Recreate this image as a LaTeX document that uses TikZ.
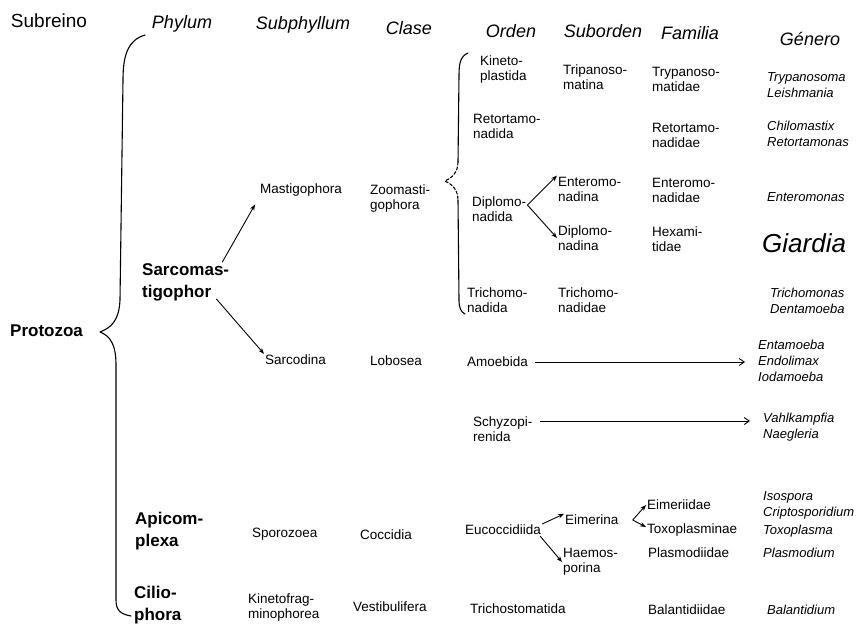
\documentclass[tikz,border=0pt]{standalone}
\usepackage{fontspec}
\setmainfont{Liberation Sans}
\usepackage{tikz}
\usetikzlibrary{arrows.meta, calc}

\begin{document}
\begin{tikzpicture}[x=1pt, y=-1pt]
    \tikzset{
  headlab/.style={font=\fontsize{18}{20}\selectfont\itshape, inner sep=0},
  phylab/.style={font=\fontsize{17}{22}\selectfont\bfseries, align=left, anchor=west, inner sep=1pt},
  taxlab/.style={font=\fontsize{13.5}{15}\selectfont, align=left, anchor=west, inner sep=1pt},
  genlab/.style={font=\fontsize{13}{16}\selectfont\itshape, align=left, anchor=west, inner sep=1pt},
  brace/.style={line width=1.1pt, line cap=round, line join=round},
  link/.style={-{Stealth[length=6pt, width=4.5pt]}, line width=0.9pt},
  longlink/.style={-{Straight Barb[length=5pt, width=7pt]}, line width=0.9pt, shorten <=6pt, shorten >=12pt},
}
\useasboundingbox (0,0) rectangle (864,625);

% ── Column headers ───────────────────────────────────────────
\node[headlab, font=\fontsize{19}{21}\selectfont] (hSub) at (49,21) {Subreino};
\node[headlab] (hPhy)   at (182,24) {Phylum};
\node[headlab] (hSubph) at (303,25) {Subphyllum};
\node[headlab] (hCla)   at (409,28) {Clase};
\node[headlab] (hOrd)   at (511,31) {Orden};
\node[headlab] (hSubo)  at (603,31) {Suborden};
\node[headlab] (hFam)   at (690,33) {Familia};
\node[headlab] (hGen)   at (810,39) {Género};

% ── Subreino and phyla ───────────────────────────────────────
\node[phylab] (proto) at (9,331)   {Protozoa};
\node[phylab] (sarc)  at (141,282) {Sarcomas-\\tigophor};
\node[phylab] (apic)  at (134,531) {Apicom-\\plexa};
\node[phylab] (cilio) at (133,605) {Cilio-\\phora};

% big brace Protozoa
\draw[brace] (145,35) .. controls (128,40) and (123,55) .. (123,80)
  -- (120,300) .. controls (119,322) and (110,328) .. (100,332)
  .. controls (110,336) and (116,344) .. (116,365)
  -- (116,600) .. controls (116,610) and (120,614) .. (131,616);

% ── Subphyllum ───────────────────────────────────────────────
\node[taxlab] (masti)  at (259,190) {Mastigophora};
\node[taxlab] (sarcod) at (264,360) {Sarcodina};
\node[taxlab] (sporo)  at (251,534) {Sporozoea};
\node[taxlab] (kinet)  at (247,607) {Kinetofrag-\\minophorea};

\draw[link, shorten >=8pt] ([xshift=-8pt]sarc.north east) -- (masti.south west);
\draw[link] ([xshift=-14pt, yshift=3pt]sarc.south east) -- (sarcod.north west);

% ── Clase ────────────────────────────────────────────────────
\node[taxlab] (zoom)  at (369,199) {Zoomasti-\\gophora};
\node[taxlab] (lobo)  at (369,361) {Lobosea};
\node[taxlab] (cocc)  at (359,535) {Coccidia};
\node[taxlab] (vesti) at (352,607) {Vestibulifera};

% brace Zoomastigophora -> orders
\draw[brace] (468,53) .. controls (461,56) and (459,62) .. (459,75) -- (458,162);
\draw[brace, dashed, dash pattern=on 3pt off 2pt] (458,162) .. controls (458,172) and (452,178) .. (445,181)
  .. controls (452,184) and (458,190) .. (458,200);
\draw[brace] (458,200) -- (459,300) .. controls (459,308) and (461,312) .. (465,314);

% ── Orden ────────────────────────────────────────────────────
\node[taxlab] (kinetop)  at (479,70)  {Kineto-\\plastida};
\node[taxlab] (retoO)    at (472,126) {Retortamo-\\nadida};
\node[taxlab] (diplo)    at (471,209) {Diplomo-\\nadida};
\node[taxlab] (tricO)    at (466,300) {Trichomo-\\nadida};
\node[taxlab] (amoe)     at (466,362) {Amoebida};
\node[taxlab] (schy)     at (472,429) {Schyzopi-\\renida};
\node[taxlab] (euco)     at (464,530) {Eucoccidiida};
\node[taxlab] (trichost) at (469,609) {Trichostomatida};

% ── Suborden ─────────────────────────────────────────────────
\node[taxlab] (tripS) at (562,77)  {Tripanoso-\\matina};
\node[taxlab] (enteS) at (557,189) {Enteromo-\\nadina};
\node[taxlab] (diplS) at (557,238) {Diplomo-\\nadina};
\node[taxlab] (tricS) at (557,300) {Trichomo-\\nadidae};
\node[taxlab] (eime)  at (564,520) {Eimerina};
\node[taxlab] (haem)  at (562,562) {Haemos-\\porina};

\draw[link] ([yshift=4pt]diplo.east) -- (enteS.north west);
\draw[link] ([yshift=4pt]diplo.east) -- (diplS.west);
\draw[link] ([yshift=6pt]euco.east) -- (eime.north west);
\draw[link] ([xshift=-2pt]euco.south east) -- (haem.west);

% ── Familia ──────────────────────────────────────────────────
\node[taxlab] (trypF) at (651,79)  {Trypanoso-\\matidae};
\node[taxlab] (retoF) at (651,135) {Retortamo-\\nadidae};
\node[taxlab] (enteF) at (651,190) {Enteromo-\\nadidae};
\node[taxlab] (hexF)  at (651,239) {Hexami-\\tidae};
\node[taxlab] (eimi)  at (646,505) {Eimeriidae};
\node[taxlab] (toxo)  at (646,530) {Toxoplasminae};
\node[taxlab] (plasF) at (647,553) {Plasmodiidae};
\node[taxlab] (balF)  at (647,610) {Balantidiidae};

\coordinate (eimeApex) at ([xshift=13pt]eime.east);
\draw[link] (eimeApex) -- (eimi.west);
\draw[link] (eimeApex) -- ([yshift=3pt]toxo.west);

% ── Género ───────────────────────────────────────────────────
\node[genlab] (gTryp) at (766,85)  {Trypanosoma\\Leishmania};
\node[genlab] (gChil) at (766,134) {Chilomastix\\Retortamonas};
\node[genlab] (gEnte) at (766,197) {Enteromonas};
\node[genlab, font=\fontsize{26}{28}\selectfont\itshape] (gGiar) at (761,243) {Giardia};
\node[genlab] (gTric) at (769,301) {Trichomonas\\Dentamoeba};
\node[genlab] (gEnta) at (757,361) {Entamoeba\\Endolimax\\Iodamoeba};
\node[genlab] (gVahl) at (762,427) {Vahlkampfia\\Naegleria};
\node[genlab] (gIso)  at (762,505) {Isospora\\Criptosporidium};
\node[genlab] (gToxo) at (762,531) {Toxoplasma};
\node[genlab] (gPlas) at (762,553) {Plasmodium};
\node[genlab] (gBala) at (766,610) {Balantidium};

\draw[longlink] (amoe.east) -- (amoe.east -| gEnta.west);
\draw[longlink] ([yshift=8pt]schy.east) -- ([yshift=8pt]schy.east -| gVahl.west);

  \end{tikzpicture}
\end{document}
